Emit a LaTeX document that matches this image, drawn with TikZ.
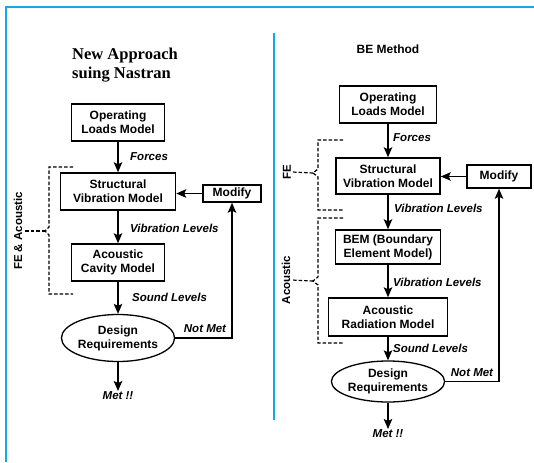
\documentclass[tikz,border=0pt]{standalone}
\usepackage{fontspec}
\setmainfont{Liberation Sans}
\newfontfamily\titlefont{Liberation Serif}
\usetikzlibrary{arrows.meta,shapes.geometric}
\definecolor{framecol}{RGB}{20,168,228}
\begin{document}
\begin{tikzpicture}[x=1pt, y=-1pt,
    box/.style={draw, line width=1.5pt, inner sep=0pt, align=center, font=\fontsize{12}{14}\selectfont\bfseries},
    req/.style={ellipse, draw, line width=1.3pt, inner sep=0pt, align=center, font=\fontsize{12}{14}\selectfont\bfseries},
    lbl/.style={inner sep=0pt, font=\fontsize{11.5}{13}\selectfont\bfseries\itshape},
    side/.style={rotate=90, inner sep=1pt, font=\fontsize{11.5}{13}\selectfont\bfseries},
    flow/.style={-{Stealth[length=10pt,width=8.5pt,inset=2pt]}, line width=1.3pt},
    brace/.style={dash pattern=on 3.5pt off 2pt, line width=1.2pt}]
    \useasboundingbox (0,0) rectangle (534,462) ;
    \draw [framecol, line width=2pt] (534,7) -- (6,7) -- (6,462) ;
    \draw [framecol, line width=1.5pt] (274,33) -- (274,420) ;

    \node [inner sep=0pt, anchor=west, align=left, font=\fontsize{16.5}{19}\selectfont\titlefont\bfseries] (ttll) at (72,65) {New Approach\\suing Nastran} ;
    \node [box, minimum width=93pt, minimum height=37pt] (opl) at (118,122.5) {Operating\\Loads Model} ;
    \node [box, minimum width=115pt, minimum height=37pt] (svl) at (118,191.5) {Structural\\Vibration Model} ;
    \node [box, minimum width=58pt, minimum height=17pt] (modl) at (232,193.5) {Modify} ;
    \node [box, minimum width=93pt, minimum height=37pt] (acl) at (118,262.5) {Acoustic\\Cavity Model} ;
    \node [req, minimum width=110pt, minimum height=47pt] (drl) at (118,338) {Design\\Requirements} ;
    \node [lbl, anchor=north] (metl) at (118,391) {Met !!} ;
    \node [lbl, anchor=west] (frcl) at (130,157) {Forces} ;
    \node [lbl, anchor=west] (vibl) at (130,228) {Vibration Levels} ;
    \node [lbl, anchor=west] (sndl) at (132,297) {Sound Levels} ;
    \node [lbl] (nmtl) at (205,329) {Not Met} ;
    \node [side] (feacl) at (18,231) {FE \& Acoustic} ;

    \draw [flow] (opl) -- (svl) ;
    \draw [flow] (svl) -- (acl) ;
    \draw [flow] (acl) -- (drl) ;
    \draw [flow] (drl) -- (metl) ;
    \draw [flow] (drl.east) -| (modl.south) ;
    \draw [flow] (modl.west) -- (svl.east |- modl.west) ;
    \coordinate (tipl) at (45,231) ;
    \draw [brace] (73,167) -- (49,167) -- (49,227) -- (tipl) -- (49,235) -- (49,294) -- (73,294) ;
    \draw [brace] (tipl) -- (feacl.south) ;

    \node [inner sep=0pt, font=\fontsize{12}{14}\selectfont\bfseries] (ttlr) at (388,49) {BE Method} ;
    \node [box, minimum width=97pt, minimum height=37pt] (opr) at (388,104.5) {Operating\\Loads Model} ;
    \node [box, minimum width=104pt, minimum height=36pt] (svr) at (388,176) {Structural\\Vibration Model} ;
    \node [box, minimum width=64pt, minimum height=23pt] (modr) at (499,176.5) {Modify} ;
    \node [box, minimum width=105pt, minimum height=34pt] (bemr) at (388,247) {BEM (Boundary\\Element Model)} ;
    \node [box, minimum width=119pt, minimum height=38pt] (arr) at (388,317) {Acoustic\\Radiation Model} ;
    \node [req, minimum width=112pt, minimum height=41pt] (drr) at (388,381.5) {Design\\Requirements} ;
    \node [lbl, anchor=north] (metr) at (388,429) {Met !!} ;
    \node [lbl, anchor=west] (frcr) at (393,138) {Forces} ;
    \node [lbl, anchor=west] (vibr) at (394,208) {Vibration Levels} ;
    \node [lbl, anchor=west] (vibbr) at (393,282) {Vibration Levels} ;
    \node [lbl, anchor=west] (sndr) at (393,348) {Sound Levels} ;
    \node [lbl] (nmtr) at (472,373) {Not Met} ;
    \node [side] (fer) at (287,172) {FE} ;
    \node [side] (acr) at (286,280) {Acoustic} ;

    \draw [flow] (opr) -- (svr) ;
    \draw [flow] (svr) -- (bemr) ;
    \draw [flow] (bemr) -- (arr) ;
    \draw [flow] (arr) -- (drr) ;
    \draw [flow] (drr) -- (metr) ;
    \draw [flow] (drr.east) -| (modr.south) ;
    \draw [flow] (modr.west) -- (svr.east |- modr.west) ;
    \coordinate (tipfer) at (313,173) ;
    \coordinate (tipacr) at (313,281) ;
    \draw [brace] (343,140) -- (318,140) -- (318,169) -- (tipfer) -- (318,177) -- (318,210) -- (343,210) ;
    \draw [brace] (tipfer) -- (fer.south) ;
    \draw [brace] (343,218) -- (318,218) -- (318,277) -- (tipacr) -- (318,285) -- (318,343) -- (343,343) ;
    \draw [brace] (tipacr) -- (acr.south) ;
\end{tikzpicture}
\end{document}
